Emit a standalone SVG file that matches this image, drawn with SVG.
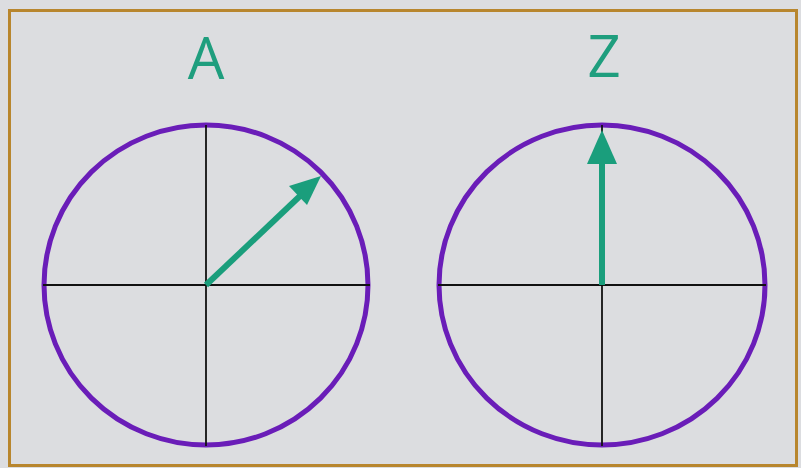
<svg xmlns="http://www.w3.org/2000/svg" width="801" height="468" viewBox="0 0 801 468">
<defs>
<style>
.frame{fill:#dcdde0;stroke:#b8862e;stroke-width:3}
.circle{fill:none;stroke:#6a1db8;stroke-width:5}
.axis{stroke:#111;stroke-width:1.8}
.vec{stroke:#1a9e7c;stroke-width:6;fill:none}
.head{fill:#1a9e7c}
.lbl{font-family:"Open Sans","DejaVu Sans",sans-serif;font-size:58px;fill:#1f9e7e;text-anchor:middle}
</style>
</defs>
<rect x="0" y="0" width="801" height="468" fill="#dcdde0"/>
<rect class="frame" x="9.5" y="10.5" width="787" height="455"/>
<g id="phasorA">
<text class="lbl" x="206" y="79">A</text>
<ellipse class="circle" cx="206" cy="285" rx="162" ry="160"/>
<line class="axis" x1="43" y1="285" x2="370" y2="285"/>
<line class="axis" x1="206" y1="125" x2="206" y2="446"/>
</g>
<g id="phasorZ">
<text class="lbl" x="604" y="77">Z</text>
<ellipse class="circle" cx="602" cy="285" rx="163" ry="160"/>
<line class="axis" x1="438" y1="285" x2="766" y2="285"/>
<line class="axis" x1="602" y1="125" x2="602" y2="446"/>
</g>
<g id="connectors">
<line class="vec" x1="206" y1="285" x2="300" y2="196"/>
<polygon class="head" points="321,176 289,186 307,205"/>
<line class="vec" x1="602" y1="285" x2="602" y2="160"/>
<polygon class="head" points="602,130 587,164 617,164"/>
</g>
</svg>
